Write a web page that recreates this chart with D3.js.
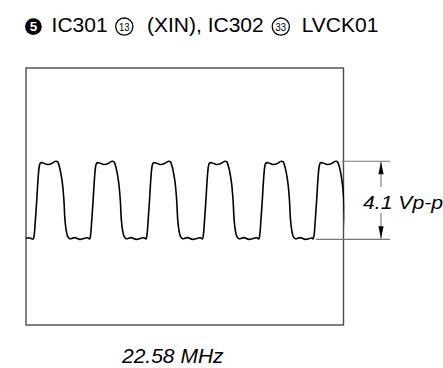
<!DOCTYPE html>
<html><head><meta charset="utf-8">
<script src="https://cdn.jsdelivr.net/npm/d3@7"></script>
<style>
html,body{margin:0;padding:0;background:#fff;}
svg{display:block;}
</style></head>
<body>
<svg id="chart" width="443" height="368"></svg>
<script>
// ---- data ----
const titleParts = ["IC301", "(XIN), IC302", "LVCK01"];
const circledLabels = ["5", "13", "33"];
const frequencyLabel = "22.58 MHz";
const amplitudeLabel = "4.1 Vp-p";
const amplitudeVpp = 4.1;
// time window of the screen (ns) and voltage window (V)
const timeWindowNs = [0, 250];
const voltWindow = [-4.5, 9.0];
// rising-edge mid points of each visible cycle (ns)
const riseTimesNs = [8.4, 52.8, 97.2, 141.6, 186.0, 228.8];
// one cycle's shape: time offset from rising edge (ns) and volts
const cycleOffsetNs = [-2.76, -1.97, -1.18, 0, 1.18, 1.97, 2.76, 3.94, 6.31, 9.07, 11.83, 14.98, 16.56, 17.5, 18.5, 19.6, 20.5, 21.5, 22.3, 23.3, 24.4, 26.0, 30.0, 33.9, 37.9, 40.2];
const cycleVolts    = [0.02, 0.22, 0.85, 2.0, 3.25, 3.8, 3.99, 4.03, 3.98, 3.93, 3.98, 4.1, 4.07, 3.9, 3.65, 3.25, 2.8, 2.0, 1.0, 0.45, 0.15, 0.03, 0.09, 0.0, 0.06, 0.08];
// trace before the first rising edge
const leadTimesNs = [0, 2.0, 4.0];
const leadVolts = [0.05, 0.08, 0.05];

// ---- drawing ----
const svg = d3.select("#chart");
const box = {x0: 26, x1: 343.5, y0: 68, y1: 325};
const x = d3.scaleLinear().domain(timeWindowNs).range([box.x0, box.x1]);
const y = d3.scaleLinear().domain(voltWindow).range([box.y1, box.y0]);

const pts = leadTimesNs.map((t, i) => [t, leadVolts[i]]);
riseTimesNs.forEach(r => cycleOffsetNs.forEach((o, i) => pts.push([r + o, cycleVolts[i]])));

const defs = svg.append("defs");
defs.append("clipPath").attr("id", "clip")
  .append("rect").attr("x", box.x0).attr("y", box.y0 - 5)
  .attr("width", box.x1 - box.x0 + 0.8).attr("height", box.y1 - box.y0 + 10);

// screen frame
svg.append("rect").attr("x", box.x0).attr("y", box.y0)
  .attr("width", box.x1 - box.x0).attr("height", box.y1 - box.y0)
  .attr("fill", "none").attr("stroke", "#4a4a4a").attr("stroke-width", 1.4);

// waveform
const line = d3.line().x(d => x(d[0])).y(d => y(d[1])).curve(d3.curveCatmullRom.alpha(0.5));
svg.append("path").datum(pts.filter(d => d[0] <= timeWindowNs[1] + 3))
  .attr("clip-path", "url(#clip)")
  .attr("d", line).attr("fill", "none").attr("stroke", "#000")
  .attr("stroke-width", 1.6).attr("stroke-linejoin", "round");

// amplitude annotation
const yTop = y(amplitudeVpp), yBot = y(0);
const ax = 381, refEnd = 390;
const g = svg.append("g");
g.append("line").attr("x1", box.x1 - 1.8).attr("x2", refEnd).attr("y1", yTop).attr("y2", yTop)
  .attr("stroke", "#777").attr("stroke-width", 1.1);
g.append("line").attr("x1", 316).attr("x2", refEnd).attr("y1", yBot).attr("y2", yBot)
  .attr("stroke", "#777").attr("stroke-width", 1.1);
g.append("line").attr("x1", ax).attr("x2", ax).attr("y1", yTop).attr("y2", 187)
  .attr("stroke", "#777").attr("stroke-width", 1.1);
g.append("line").attr("x1", ax).attr("x2", ax).attr("y1", 213).attr("y2", yBot)
  .attr("stroke", "#777").attr("stroke-width", 1.1);
g.append("path").attr("d", `M${ax},${yTop + 0.5} L${ax - 2.6},${yTop + 13} L${ax + 2.6},${yTop + 13} Z`).attr("fill", "#000");
g.append("path").attr("d", `M${ax},${yBot - 0.5} L${ax - 2.6},${yBot - 13} L${ax + 2.6},${yBot - 13} Z`).attr("fill", "#000");
g.append("text").attr("x", 363).attr("y", 209.3)
  .attr("font-family", "'Liberation Sans', Arial, sans-serif").attr("font-style", "italic")
  .attr("font-size", 18.5).attr("textLength", 80).attr("lengthAdjust", "spacingAndGlyphs")
  .attr("fill", "#000").text(amplitudeLabel);

// title
const tf = "'Liberation Sans', Arial, sans-serif";
const title = svg.append("g");
// ❺ filled circle
title.append("circle").attr("cx", 33.4).attr("cy", 26.6).attr("r", 8.4).attr("fill", "#000");
title.append("text").attr("x", 33.4).attr("y", 31.4).attr("text-anchor", "middle")
  .attr("font-family", tf).attr("font-weight", "bold").attr("font-size", 13.5).attr("fill", "#fff").text(circledLabels[0]);
title.append("text").attr("x", 51.6).attr("y", 32.3).attr("font-family", tf).attr("font-size", 21).attr("fill", "#000").text(titleParts[0]);
// ⑬
title.append("circle").attr("cx", 124.3).attr("cy", 26.6).attr("r", 8.6).attr("fill", "none").attr("stroke", "#000").attr("stroke-width", 1.3);
title.append("text").attr("x", 124.3).attr("y", 30.6).attr("text-anchor", "middle")
  .attr("font-family", tf).attr("font-size", 11).attr("textLength", 10.5).attr("lengthAdjust", "spacingAndGlyphs").attr("fill", "#000").text(circledLabels[1]);
title.append("text").attr("x", 147).attr("y", 32.3).attr("font-family", tf).attr("font-size", 21).attr("fill", "#000").text(titleParts[1]);
// ㉝
title.append("circle").attr("cx", 280.8).attr("cy", 26.6).attr("r", 8.6).attr("fill", "none").attr("stroke", "#000").attr("stroke-width", 1.3);
title.append("text").attr("x", 280.8).attr("y", 30.6).attr("text-anchor", "middle")
  .attr("font-family", tf).attr("font-size", 11).attr("textLength", 10.5).attr("lengthAdjust", "spacingAndGlyphs").attr("fill", "#000").text(circledLabels[2]);
title.append("text").attr("x", 301.7).attr("y", 32.3).attr("font-family", tf).attr("font-size", 21).attr("fill", "#000").text(titleParts[2]);

// frequency label
svg.append("text").attr("x", 122).attr("y", 363.3)
  .attr("font-family", tf).attr("font-style", "italic").attr("font-size", 21)
  .attr("fill", "#000").text(frequencyLabel);
</script>
</body></html>
